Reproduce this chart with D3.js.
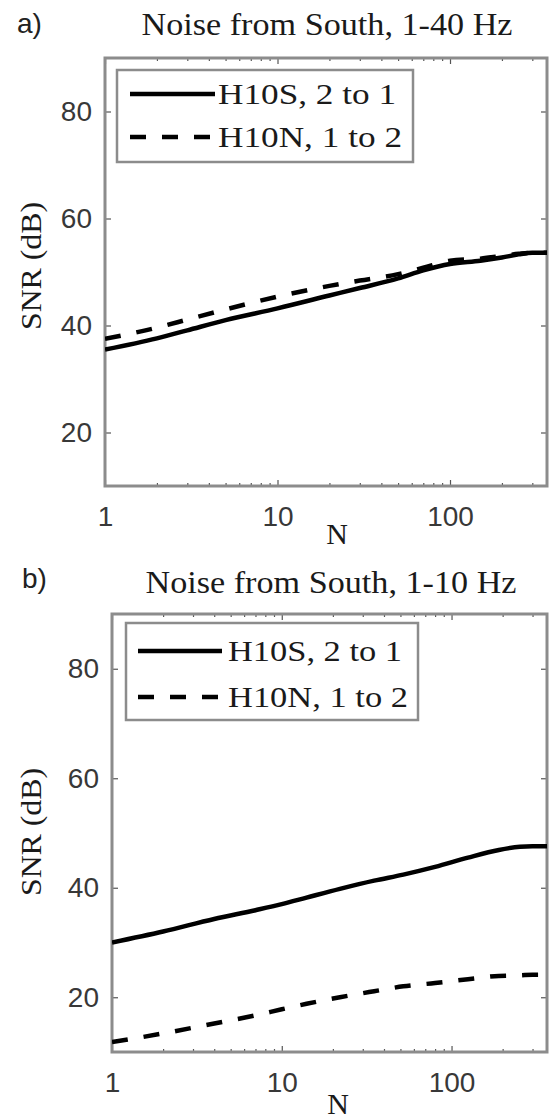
<!DOCTYPE html>
<html>
<head>
<meta charset="utf-8">
<script src="https://cdn.jsdelivr.net/npm/d3@7"></script>
<style>
  body { margin: 0; background: #fff; }
  svg { display: block; }
</style>
</head>
<body>
<svg id="fig" width="549" height="1120"></svg>
<script>
// ---- data -------------------------------------------------------------
// Number of stacked records N and the resulting SNR (dB)
const nBroad = [1, 2, 3, 5, 10, 20, 30, 50, 70, 100, 150, 200, 250, 300, 365];
const snrSouthBroad = [35.5, 37.6, 39.1, 41.0, 43.2, 45.6, 47.0, 48.8, 50.3, 51.5, 52.1, 52.7, 53.3, 53.6, 53.6];
const snrNorthBroad = [37.5, 39.6, 41.1, 43.0, 45.4, 47.4, 48.4, 49.6, 50.8, 52.1, 52.5, 53.0, 53.4, 53.6, 53.6];

const nLow = [1, 2, 4, 7, 10, 14, 22, 35, 52, 80, 125, 190, 253, 300, 365];
const snrSouthLow = [30.0, 32.0, 34.3, 35.9, 37.0, 38.2, 39.8, 41.3, 42.4, 43.8, 45.5, 46.9, 47.5, 47.6, 47.6];
const snrNorthLow = [11.8, 13.4, 15.2, 16.7, 17.8, 18.8, 20.0, 21.1, 22.0, 22.6, 23.3, 23.9, 24.0, 24.1, 24.1];

const seriesNames = ["H10S, 2 to 1", "H10N, 1 to 2"];
const panelTitles = ["Noise from South, 1-40 Hz", "Noise from South, 1-10 Hz"];
const panelTags = ["a)", "b)"];
const xTickValues = [1, 10, 100];
const xTickLabels = ["1", "10", "100"];
const xMinorTicks = [2, 3, 4, 5, 6, 7, 8, 9, 20, 30, 40, 50, 60, 70, 80, 90, 200, 300];
const yTickValues = [20, 40, 60, 80];
const xDomain = [1, 365];
const yDomain = [10, 90];

// ---- layout -----------------------------------------------------------
const panels = [
  {
    n: nBroad, series: [snrSouthBroad, snrNorthBroad],
    left: 105, right: 547, top: 58, bottom: 486,
    title: { x: 327, y: 35, len: 371 }, tag: { x: 17, y: 33 },
    ylab: { x: 41, y: 266 }, xlab: { x: 337, y: 544 },
    legend: { x0: 117, y0: 70, x1: 413, y1: 162, rows: [94, 137], lx0: 130, lx1: 215, tx: 218, tlen: [178, 184] }
  },
  {
    n: nLow, series: [snrSouthLow, snrNorthLow],
    left: 112, right: 547, top: 614, bottom: 1052,
    title: { x: 331, y: 593, len: 371 }, tag: { x: 22, y: 588 },
    ylab: { x: 41, y: 832 }, xlab: { x: 338, y: 1114 },
    legend: { x0: 126, y0: 623, x1: 418, y1: 720, rows: [651, 697], lx0: 138, lx1: 222, tx: 228, tlen: [174, 180] }
  }
];

const dashes = [null, "16,16"];
const boxColor = "#8c8c8c";
const tickColor = "#555";
const labelColor = "#383838";
const serif = "'Liberation Serif', 'Times New Roman', serif";
const sans = "'Liberation Sans', Arial, Helvetica, sans-serif";

const svg = d3.select("#fig");

panels.forEach((p, i) => {
  const x = d3.scaleLog().domain(xDomain).range([p.left, p.right]);
  const y = d3.scaleLinear().domain(yDomain).range([p.bottom, p.top]);
  const g = svg.append("g");

  // clip region for the curves
  const clipId = "clip" + i;
  svg.append("clipPath").attr("id", clipId)
    .append("rect")
    .attr("x", p.left).attr("y", p.top)
    .attr("width", p.right - p.left).attr("height", p.bottom - p.top);

  // axes: labelled bottom/left, bare top/right, ticks pointing inward
  const styleAxis = sel => {
    sel.select(".domain").remove();
    sel.selectAll(".tick line").attr("stroke", tickColor).attr("stroke-width", 1.2);
    sel.selectAll(".tick text")
      .attr("fill", labelColor)
      .style("font-family", sans)
      .style("font-size", "28px");
  };

  g.append("g").attr("transform", `translate(0,${p.bottom})`)
    .call(d3.axisBottom(x).tickValues(xTickValues)
      .tickFormat((d, k) => xTickLabels[k]).tickSize(-6).tickPadding(20))
    .call(styleAxis);
  g.append("g").attr("transform", `translate(0,${p.bottom})`)
    .call(d3.axisBottom(x).tickValues(xMinorTicks).tickFormat("").tickSize(-3))
    .call(styleAxis);
  g.append("g").attr("transform", `translate(0,${p.top})`)
    .call(d3.axisTop(x).tickValues(xTickValues).tickFormat("").tickSize(-6))
    .call(styleAxis);
  g.append("g").attr("transform", `translate(0,${p.top})`)
    .call(d3.axisTop(x).tickValues(xMinorTicks).tickFormat("").tickSize(-3))
    .call(styleAxis);
  g.append("g").attr("transform", `translate(${p.left},0)`)
    .call(d3.axisLeft(y).tickValues(yTickValues).tickSize(-6).tickPadding(13))
    .call(styleAxis);
  g.append("g").attr("transform", `translate(${p.right},0)`)
    .call(d3.axisRight(y).tickValues(yTickValues).tickFormat("").tickSize(-6))
    .call(styleAxis);

  // axes box
  g.append("rect")
    .attr("x", p.left).attr("y", p.top)
    .attr("width", p.right - p.left).attr("height", p.bottom - p.top)
    .attr("fill", "none").attr("stroke", boxColor).attr("stroke-width", 3);

  // curves
  const line = d3.line()
    .x(d => x(d[0])).y(d => y(d[1]))
    .curve(d3.curveMonotoneX);
  p.series.forEach((vals, s) => {
    g.append("path")
      .datum(p.n.map((nv, k) => [nv, vals[k]]))
      .attr("clip-path", `url(#${clipId})`)
      .attr("d", line)
      .attr("fill", "none")
      .attr("stroke", "#000")
      .attr("stroke-width", 4.5)
      .attr("stroke-dasharray", dashes[s]);
  });

  // legend
  const L = p.legend;
  g.append("rect")
    .attr("x", L.x0).attr("y", L.y0)
    .attr("width", L.x1 - L.x0).attr("height", L.y1 - L.y0)
    .attr("fill", "#fff").attr("stroke", boxColor).attr("stroke-width", 2.5);
  seriesNames.forEach((name, s) => {
    g.append("line")
      .attr("x1", L.lx0).attr("x2", L.lx1)
      .attr("y1", L.rows[s]).attr("y2", L.rows[s])
      .attr("stroke", "#000").attr("stroke-width", 4.5)
      .attr("stroke-dasharray", dashes[s]);
    g.append("text")
      .attr("x", L.tx).attr("y", L.rows[s] + 10)
      .attr("textLength", L.tlen[s]).attr("lengthAdjust", "spacingAndGlyphs")
      .style("font-family", serif).style("font-size", "30px").attr("fill", "#1a1a1a")
      .text(name);
  });

  // titles and labels
  g.append("text")
    .attr("x", p.title.x).attr("y", p.title.y)
    .attr("text-anchor", "middle")
    .attr("textLength", p.title.len).attr("lengthAdjust", "spacingAndGlyphs")
    .style("font-family", serif).style("font-size", "31px").attr("fill", "#1a1a1a")
    .text(panelTitles[i]);

  g.append("text")
    .attr("x", p.tag.x).attr("y", p.tag.y)
    .style("font-family", sans).style("font-size", "28px").attr("fill", "#222")
    .text(panelTags[i]);

  g.append("text")
    .attr("transform", `translate(${p.ylab.x},${p.ylab.y}) rotate(-90)`)
    .attr("text-anchor", "middle")
    .attr("textLength", 128).attr("lengthAdjust", "spacingAndGlyphs")
    .style("font-family", serif).style("font-size", "30px").attr("fill", "#1a1a1a")
    .text("SNR (dB)");

  g.append("text")
    .attr("x", p.xlab.x).attr("y", p.xlab.y)
    .attr("text-anchor", "middle")
    .style("font-family", serif).style("font-size", "30px").attr("fill", "#1a1a1a")
    .text("N");
});
</script>
</body>
</html>
